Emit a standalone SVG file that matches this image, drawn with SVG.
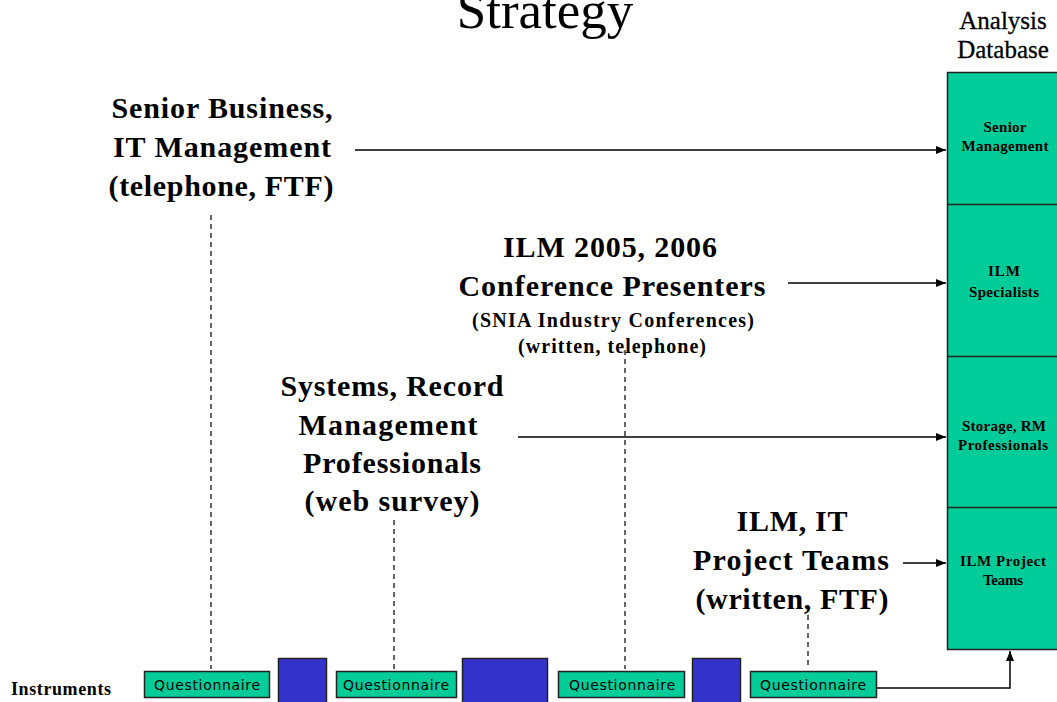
<svg xmlns="http://www.w3.org/2000/svg" width="1057" height="702" viewBox="0 0 1057 702">
  <style>
    .title { font-family: "Liberation Serif", "Times New Roman", serif; font-size: 53px; fill: #000; text-anchor: middle; }
    .head { font-family: "Liberation Serif", "Times New Roman", serif; font-size: 25px; fill: #000; text-anchor: middle; stroke: #000; stroke-width: 0.3; }
    .big { font-family: "Liberation Serif", "Times New Roman", serif; font-size: 30px; font-weight: bold; fill: #000; text-anchor: middle; }
    .mid { font-family: "Liberation Serif", "Times New Roman", serif; font-size: 20px; font-weight: bold; fill: #000; text-anchor: middle; }
    .cell { font-family: "Liberation Serif", "Times New Roman", serif; font-size: 15px; font-weight: bold; fill: #000; text-anchor: middle; }
    .lbl { font-family: "Liberation Serif", "Times New Roman", serif; font-size: 18px; font-weight: bold; fill: #000; }
    .q { font-family: "DejaVu Sans", Verdana, sans-serif; font-size: 14px; fill: #000; text-anchor: middle; }
    .green { fill: #00CC99; stroke: #222; stroke-width: 1.5; }
    .blue { fill: #3333CC; stroke: #222; stroke-width: 1.5; }
    .arrow { stroke: #000; stroke-width: 1.5; fill: none; marker-end: url(#head); }
    .dash { stroke: #000; stroke-width: 1.2; stroke-dasharray: 5 4; fill: none; }
  </style>
  <defs>
    <marker id="head" viewBox="0 0 10 8" refX="10" refY="4" markerWidth="10" markerHeight="8" markerUnits="userSpaceOnUse" orient="auto">
      <path d="M0,0 L10,4 L0,8 Z" fill="#000"/>
    </marker>
  </defs>
  <rect width="1057" height="702" fill="#fff"/>

  <text class="title" x="545" y="28">Strategy</text>

  <!-- Analysis database column -->
  <g id="database">
    <text class="head" x="1003" y="29">Analysis</text>
    <text class="head" x="1003" y="58">Database</text>
    <rect class="green" x="947.5" y="72.5" width="120" height="577"/>
    <line x1="947" y1="204.5" x2="1057" y2="204.5" stroke="#222" stroke-width="1.5"/>
    <line x1="947" y1="356.5" x2="1057" y2="356.5" stroke="#222" stroke-width="1.5"/>
    <line x1="947" y1="507.5" x2="1057" y2="507.5" stroke="#222" stroke-width="1.5"/>
    <g id="cell-senior">
      <text class="cell" x="1005" y="132" textLength="43">Senior</text>
      <text class="cell" x="1005" y="151" textLength="87">Management</text>
    </g>
    <g id="cell-ilm">
      <text class="cell" x="1004" y="276" textLength="32">ILM</text>
      <text class="cell" x="1004" y="297" textLength="70">Specialists</text>
    </g>
    <g id="cell-storage">
      <text class="cell" x="1004" y="431" textLength="84">Storage, RM</text>
      <text class="cell" x="1003" y="450" textLength="90">Professionals</text>
    </g>
    <g id="cell-project">
      <text class="cell" x="1003" y="566" textLength="86">ILM Project</text>
      <text class="cell" x="1003" y="585" textLength="40">Teams</text>
    </g>
  </g>

  <!-- respondent groups -->
  <g id="senior-business">
    <text class="big" x="222" y="118" textLength="221">Senior Business,</text>
    <text class="big" x="222" y="157" textLength="218">IT Management</text>
    <text class="big" x="221" y="196" textLength="225">(telephone, FTF)</text>
  </g>
  <g id="conference-presenters">
    <text class="big" x="610" y="257" textLength="214">ILM 2005, 2006</text>
    <text class="big" x="612" y="296" textLength="307">Conference Presenters</text>
    <text class="mid" x="613" y="327" textLength="282">(SNIA Industry Conferences)</text>
    <text class="mid" x="612" y="353" textLength="188">(written, telephone)</text>
  </g>
  <g id="systems-rm">
    <text class="big" x="392" y="396" textLength="223">Systems, Record</text>
    <text class="big" x="388" y="435" textLength="179">Management</text>
    <text class="big" x="392" y="473" textLength="178">Professionals</text>
    <text class="big" x="392" y="511" textLength="175">(web survey)</text>
  </g>
  <g id="project-teams">
    <text class="big" x="792" y="531" textLength="111">ILM, IT</text>
    <text class="big" x="791" y="570" textLength="196">Project Teams</text>
    <text class="big" x="792" y="609" textLength="193">(written, FTF)</text>
  </g>

  <!-- instruments row -->
  <g id="instruments">
    <text class="lbl" x="11" y="695" textLength="100">Instruments</text>
  </g>
  <g id="q1">
    <rect class="green" x="144.5" y="671.5" width="125" height="26"/>
    <text class="q" x="207" y="690" textLength="106">Questionnaire</text>
  </g>
  <g id="b1"><rect class="blue" x="278.5" y="658.5" width="48" height="50"/></g>
  <g id="q2">
    <rect class="green" x="336.5" y="671.5" width="120" height="26"/>
    <text class="q" x="396" y="690" textLength="106">Questionnaire</text>
  </g>
  <g id="b2"><rect class="blue" x="462.5" y="658.5" width="85" height="50"/></g>
  <g id="q3">
    <rect class="green" x="558.5" y="671.5" width="126" height="26"/>
    <text class="q" x="622" y="690" textLength="106">Questionnaire</text>
  </g>
  <g id="b3"><rect class="blue" x="692.5" y="658.5" width="48" height="50"/></g>
  <g id="q4">
    <rect class="green" x="750.5" y="671.5" width="126" height="26"/>
    <text class="q" x="813" y="690" textLength="106">Questionnaire</text>
  </g>

  <!-- connectors -->
  <g id="connectors">
    <line class="arrow" x1="355" y1="150" x2="946" y2="150"/>
    <line class="arrow" x1="788" y1="283" x2="946" y2="283"/>
    <line class="arrow" x1="518" y1="437" x2="946" y2="437"/>
    <line class="arrow" x1="903" y1="563" x2="946" y2="563"/>
    <polyline class="arrow" points="877,688 1010,688 1010,651"/>
    <line class="dash" x1="211" y1="215" x2="211" y2="669"/>
    <line class="dash" x1="625" y1="350" x2="625" y2="669"/>
    <line class="dash" x1="394" y1="520" x2="394" y2="669"/>
    <line class="dash" x1="808" y1="615" x2="808" y2="669"/>
  </g>
</svg>
